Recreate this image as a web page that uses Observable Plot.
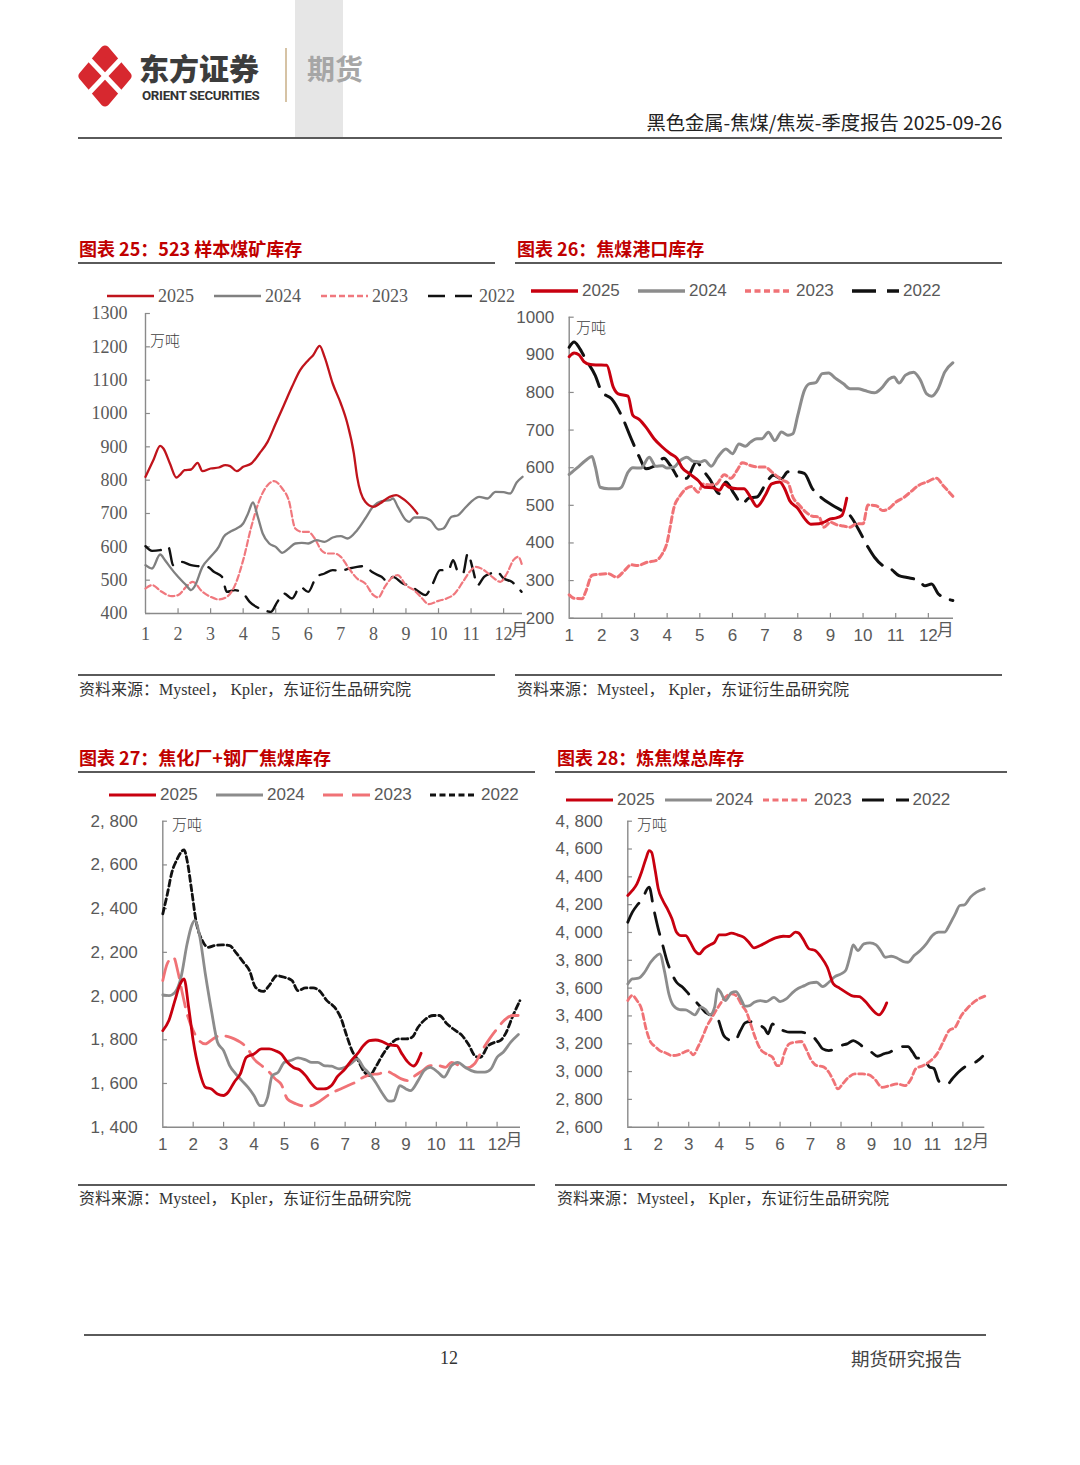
<!DOCTYPE html>
<html><head><meta charset="utf-8">
<script src="https://cdn.jsdelivr.net/npm/d3@7"></script>
<script src="https://cdn.jsdelivr.net/npm/@observablehq/plot@0.6"></script>
<style>
body{margin:0;background:#fff;}
#page{position:relative;width:1080px;height:1465px;overflow:hidden;background:#fff;font-family:"Noto Sans CJK SC",sans-serif;}
.abs{position:absolute;white-space:nowrap;line-height:1;}
.title{font-size:18px;font-weight:700;color:#C00000;}
.src{font-size:16px;color:#333;font-family:"Liberation Serif","Noto Sans CJK SC",serif;}
.rule{position:absolute;background:#5a5a5a;height:2px;}
.unit{font-size:15px;color:#404040;font-weight:300;}
</style></head><body><div id="page"></div>
<script>
// ---------- data ----------
const months = [1,2,3,4,5,6,7,8,9,10,11,12];
const years = ["2025","2024","2023","2022"];

// Chart 25: 523 sample coal mines inventory (万吨), [month position, value]
const c25_2025 = [[1,810],[1.25,862],[1.45,903],[1.55,895],[1.75,850],[1.95,808],[2.05,815],[2.2,830],[2.4,832],[2.6,852],[2.75,827],[3,835],[3.25,838],[3.45,845],[3.6,842],[3.8,827],[4,840],[4.25,850],[4.5,880],[4.75,915],[5,970],[5.25,1025],[5.5,1080],[5.75,1130],[6,1160],[6.15,1175],[6.35,1203],[6.5,1170],[6.75,1090],[7,1030],[7.2,970],[7.4,880],[7.5,810],[7.75,735],[8,720],[8.2,730],[8.5,750],[8.7,755],[8.85,748],[9.05,733],[9.2,718],[9.35,700]];
const c25_2024 = [[1,545],[1.2,535],[1.45,577],[1.6,560],[1.75,540],[2,510],[2.25,485],[2.4,470],[2.5,480],[2.75,540],[3,570],[3.25,600],[3.4,630],[3.6,645],[3.8,655],[4,670],[4.15,700],[4.3,733],[4.45,690],[4.6,640],[4.8,610],[5,600],[5.2,582],[5.4,595],[5.6,610],[5.8,612],[6,610],[6.25,620],[6.5,615],[6.75,628],[7,632],[7.2,625],[7.5,650],[7.75,685],[8,722],[8.25,737],[8.5,740],[8.6,745],[8.75,720],[9,680],[9.1,675],[9.25,688],[9.5,688],[9.75,680],[10,652],[10.15,655],[10.4,690],[10.6,695],[10.8,715],[11,735],[11.25,750],[11.5,745],[11.75,765],[12,764],[12.2,760],[12.4,793],[12.58,810]];
const c25_2023 = [[1,475],[1.2,485],[1.5,465],[1.8,452],[2,455],[2.25,480],[2.45,495],[2.75,465],[3,450],[3.25,442],[3.5,450],[3.75,485],[4,560],[4.25,660],[4.5,740],[4.75,785],[4.95,797],[5.2,775],[5.4,740],[5.6,655],[5.8,645],[6,645],[6.2,625],[6.4,590],[6.6,580],[6.8,580],[7,570],[7.25,535],[7.5,505],[7.75,490],[8,455],[8.15,448],[8.35,480],[8.6,510],[8.75,515],[9,485],[9.25,470],[9.5,445],[9.7,428],[10,438],[10.25,445],[10.5,460],[10.75,495],[11,530],[11.15,540],[11.4,530],[11.65,510],[11.9,495],[12.1,520],[12.3,560],[12.45,570],[12.58,540]];
const c25_2022 = [[1,602],[1.2,588],[1.45,590],[1.7,600],[1.85,545],[2.1,555],[2.4,545],[2.6,542],[2.9,540],[3.1,525],[3.35,510],[3.5,465],[3.75,470],[4,460],[4.2,435],[4.4,420],[4.6,412],[4.85,405],[5.05,435],[5.25,460],[5.5,445],[5.75,480],[6,465],[6.25,510],[6.5,520],[6.75,530],[7,528],[7.25,535],[7.5,540],[7.75,542],[7.95,525],[8.25,510],[8.45,495],[8.6,510],[8.9,490],[9.15,482],[9.4,465],[9.6,455],[9.8,485],[10.05,530],[10.3,530],[10.45,560],[10.6,525],[10.75,520],[10.9,580],[11.05,535],[11.2,485],[11.4,510],[11.6,520],[11.8,525],[12,505],[12.25,495],[12.55,465]];
const c25_ticks = [400,500,600,700,800,900,1000,1100,1200,1300];

// Chart 26: coking coal port inventory
const c26_2025 = [[1,895],[1.15,905],[1.3,900],[1.45,882],[1.65,874],[1.9,873],[2.15,872],[2.35,814],[2.5,796],[2.8,790],[2.95,739],[3.15,728],[3.35,708],[3.6,677],[3.85,655],[4.1,637],[4.3,625],[4.45,601],[4.7,583],[4.95,566],[5.15,548],[5.4,547],[5.6,540],[5.75,557],[5.9,548],[6.15,544],[6.35,544],[6.55,522],[6.75,497],[7,526],[7.2,557],[7.45,562],[7.6,544],[7.75,513],[8,492],[8.2,466],[8.4,450],[8.65,451],[8.85,457],[9,464],[9.15,466],[9.35,473],[9.5,519]];
const c26_2024 = [[1,582],[1.25,600],[1.5,619],[1.7,630],[1.8,602],[1.95,548],[2.2,544],[2.5,544],[2.6,548],[2.8,588],[2.95,600],[3.2,599],[3.45,628],[3.65,604],[3.85,605],[4,599],[4.2,601],[4.4,619],[4.6,628],[4.8,617],[5,615],[5.15,619],[5.35,604],[5.55,628],[5.8,650],[6,637],[6.2,663],[6.4,657],[6.55,668],[6.75,677],[6.9,677],[7.1,694],[7.3,672],[7.5,695],[7.7,686],[7.85,690],[8,739],[8.2,805],[8.35,823],[8.55,826],[8.75,850],[8.95,852],[9.15,838],[9.4,823],[9.6,810],[9.85,810],[10.05,805],[10.35,799],[10.55,810],[10.8,836],[10.95,841],[11.1,825],[11.3,846],[11.55,854],[11.75,834],[11.95,796],[12.1,790],[12.3,810],[12.5,854],[12.75,879]];
const c26_2023 = [[1,262],[1.15,253],[1.4,252],[1.5,269],[1.7,314],[1.95,317],[2.2,318],[2.45,309],[2.7,327],[2.9,342],[3.1,340],[3.4,349],[3.65,353],[3.85,371],[4,402],[4.1,446],[4.2,491],[4.4,526],[4.55,542],[4.75,550],[4.95,535],[5.1,557],[5.3,554],[5.5,556],[5.75,581],[5.95,572],[6.15,594],[6.3,613],[6.55,606],[6.75,602],[7,602],[7.2,589],[7.4,575],[7.55,566],[7.7,560],[7.85,522],[8.05,500],[8.25,482],[8.45,471],[8.65,469],[8.8,442],[9,455],[9.2,448],[9.4,445],[9.6,442],[9.8,451],[10,451],[10.15,501],[10.4,499],[10.6,486],[10.8,492],[11,508],[11.25,521],[11.45,535],[11.7,553],[11.95,562],[12.25,572],[12.45,553],[12.75,524]];
const c26_2022 = [[1,920],[1.15,934],[1.3,920],[1.5,889],[1.8,845],[2,801],[2.3,783],[2.6,739],[2.9,677],[3.15,628],[3.35,597],[3.6,604],[3.9,625],[4.1,606],[4.4,570],[4.6,572],[4.9,615],[5.1,593],[5.3,570],[5.6,531],[5.8,562],[6.05,531],[6.3,504],[6.5,519],[6.75,522],[7.05,562],[7.25,580],[7.5,571],[7.7,589],[7.95,589],[8.2,585],[8.45,544],[8.7,522],[9.05,501],[9.35,486],[9.6,473],[9.85,438],[10.15,389],[10.35,362],[10.6,340],[10.85,331],[11.1,313],[11.35,308],[11.7,300],[11.9,286],[12.1,291],[12.3,265],[12.5,254],[12.75,247]];
const c26_ticks = [200,300,400,500,600,700,800,900,1000];

// Chart 27: coking plants + steel mills coking coal inventory
const c27_2025 = [[1,1842],[1.2,1888],[1.4,1980],[1.55,2048],[1.7,2078],[1.85,1949],[2,1796],[2.2,1659],[2.4,1583],[2.6,1575],[2.8,1552],[3,1545],[3.15,1560],[3.35,1606],[3.55,1644],[3.75,1720],[4,1735],[4.25,1758],[4.5,1758],[4.7,1750],[4.9,1735],[5.1,1697],[5.3,1673],[5.5,1663],[5.7,1636],[5.9,1598],[6.1,1575],[6.3,1575],[6.55,1591],[6.75,1632],[7,1667],[7.2,1705],[7.4,1735],[7.6,1773],[7.8,1796],[8,1799],[8.2,1793],[8.45,1777],[8.7,1773],[8.85,1740],[9.05,1700],[9.25,1680],[9.5,1738]];
const c27_2024 = [[1,2005],[1.2,2002],[1.4,2017],[1.6,2086],[1.8,2239],[1.95,2323],[2.05,2345],[2.2,2284],[2.4,2101],[2.6,1934],[2.8,1789],[3,1750],[3.2,1682],[3.4,1644],[3.6,1613],[3.8,1583],[4,1545],[4.2,1499],[4.3,1499],[4.45,1538],[4.6,1636],[4.8,1652],[5,1697],[5.2,1705],[5.45,1717],[5.7,1708],[5.9,1697],[6.1,1697],[6.3,1682],[6.55,1679],[6.8,1667],[7,1674],[7.2,1692],[7.4,1712],[7.6,1674],[7.8,1644],[8,1606],[8.2,1560],[8.45,1519],[8.6,1522],[8.8,1590],[9,1575],[9.15,1567],[9.4,1613],[9.6,1659],[9.8,1674],[10.05,1652],[10.25,1629],[10.5,1682],[10.7,1697],[10.95,1674],[11.15,1659],[11.35,1652],[11.6,1652],[11.8,1667],[12,1720],[12.2,1743],[12.45,1789],[12.7,1824]];
const c27_2023 = [[1,2071],[1.15,2150],[1.35,2178],[1.5,2109],[1.65,2009],[1.8,1918],[2,1842],[2.2,1796],[2.4,1781],[2.65,1804],[2.9,1819],[3.15,1814],[3.35,1804],[3.55,1789],[3.8,1758],[4,1712],[4.25,1682],[4.5,1652],[4.7,1621],[4.9,1595],[5.1,1529],[5.35,1509],[5.6,1498],[5.85,1498],[6.1,1513],[6.35,1538],[6.6,1560],[6.85,1575],[7.1,1591],[7.35,1606],[7.6,1629],[7.85,1641],[8.1,1644],[8.35,1656],[8.6,1641],[8.85,1621],[9.1,1613],[9.3,1636],[9.55,1659],[9.8,1682],[10.05,1682],[10.3,1674],[10.5,1697],[10.75,1682],[11,1671],[11.25,1689],[11.5,1750],[11.75,1804],[12,1850],[12.25,1891],[12.5,1911],[12.75,1911]];
const c27_2022 = [[1,2376],[1.15,2467],[1.3,2567],[1.45,2620],[1.6,2658],[1.7,2669],[1.8,2620],[1.95,2483],[2.1,2338],[2.3,2254],[2.5,2223],[2.7,2231],[2.95,2234],[3.2,2231],[3.4,2200],[3.65,2155],[3.85,2117],[4.05,2040],[4.3,2021],[4.5,2048],[4.75,2093],[5,2086],[5.25,2071],[5.45,2025],[5.7,2037],[5.95,2037],[6.15,2025],[6.4,1979],[6.65,1949],[6.85,1903],[7.05,1819],[7.25,1743],[7.4,1712],[7.6,1659],[7.8,1636],[8,1674],[8.25,1735],[8.5,1781],[8.75,1804],[9,1804],[9.2,1811],[9.4,1857],[9.65,1895],[9.9,1911],[10.1,1911],[10.35,1873],[10.6,1845],[10.85,1819],[11.05,1781],[11.3,1723],[11.45,1720],[11.7,1772],[11.9,1787],[12.1,1796],[12.3,1834],[12.5,1903],[12.75,1979]];
const c27_ticks = [1400,1600,1800,2000,2200,2400,2600,2800];

// Chart 28: total coking coal inventory
const c28_2025 = [[1,4266],[1.15,4302],[1.3,4350],[1.45,4433],[1.6,4534],[1.7,4589],[1.78,4577],[1.9,4445],[2,4314],[2.15,4230],[2.3,4170],[2.45,4098],[2.6,4002],[2.75,3978],[2.9,3978],[3.05,3930],[3.2,3870],[3.35,3846],[3.5,3882],[3.7,3911],[3.85,3930],[4,3983],[4.2,3983],[4.4,3995],[4.6,3983],[4.8,3966],[4.95,3935],[5.15,3889],[5.35,3906],[5.6,3935],[5.85,3961],[6.1,3973],[6.3,3971],[6.5,4002],[6.6,3997],[6.75,3954],[6.95,3882],[7.15,3870],[7.35,3822],[7.55,3750],[7.75,3630],[7.95,3600],[8.15,3571],[8.4,3542],[8.6,3539],[8.8,3503],[9,3451],[9.25,3408],[9.4,3446],[9.5,3494]];
const c28_2024 = [[1,3630],[1.15,3666],[1.35,3671],[1.55,3714],[1.75,3786],[1.95,3834],[2.05,3846],[2.2,3726],[2.35,3557],[2.5,3474],[2.7,3446],[2.9,3443],[3.05,3426],[3.2,3408],[3.4,3463],[3.55,3446],[3.7,3408],[3.85,3463],[3.95,3595],[4.05,3570],[4.2,3510],[4.4,3566],[4.55,3575],[4.7,3527],[4.85,3470],[5,3474],[5.15,3498],[5.35,3510],[5.55,3503],[5.8,3534],[6,3503],[6.2,3522],[6.4,3566],[6.6,3599],[6.8,3618],[7,3638],[7.2,3642],[7.4,3611],[7.6,3642],[7.8,3683],[8,3702],[8.15,3726],[8.3,3834],[8.4,3911],[8.55,3870],[8.75,3918],[8.95,3925],[9.15,3911],[9.3,3870],[9.45,3822],[9.65,3829],[9.85,3815],[10.05,3791],[10.2,3786],[10.4,3834],[10.6,3870],[10.8,3918],[11,3978],[11.2,4002],[11.4,4002],[11.55,4050],[11.75,4134],[11.9,4194],[12.05,4198],[12.25,4254],[12.45,4290],[12.7,4314]];
const c28_2023 = [[1,3511],[1.15,3547],[1.3,3511],[1.45,3451],[1.6,3307],[1.75,3211],[1.9,3180],[2.05,3151],[2.25,3134],[2.45,3115],[2.65,3120],[2.85,3139],[3,3151],[3.15,3120],[3.3,3175],[3.45,3247],[3.6,3326],[3.8,3403],[4,3475],[4.2,3535],[4.4,3559],[4.55,3547],[4.75,3475],[4.9,3427],[5.05,3331],[5.2,3235],[5.35,3163],[5.55,3127],[5.75,3103],[5.9,3043],[6,3043],[6.15,3139],[6.3,3199],[6.5,3211],[6.7,3216],[6.85,3163],[7,3091],[7.2,3043],[7.4,3036],[7.6,2995],[7.75,2935],[7.9,2875],[8.05,2911],[8.25,2959],[8.45,2983],[8.7,2983],[8.9,2978],[9.1,2947],[9.35,2887],[9.6,2899],[9.85,2911],[10.1,2899],[10.3,2947],[10.45,3019],[10.7,3043],[10.95,3079],[11.15,3127],[11.35,3211],[11.55,3295],[11.75,3319],[11.95,3403],[12.15,3455],[12.35,3497],[12.55,3526],[12.72,3542]];
const c28_2022 = [[1,4074],[1.15,4146],[1.3,4194],[1.45,4230],[1.7,4326],[1.85,4170],[2,4026],[2.15,3906],[2.3,3786],[2.45,3702],[2.6,3642],[2.8,3606],[3,3558],[3.2,3510],[3.4,3463],[3.55,3426],[3.75,3408],[3.9,3427],[4,3355],[4.15,3259],[4.3,3230],[4.5,3216],[4.7,3295],[4.85,3350],[5,3360],[5.15,3355],[5.35,3331],[5.5,3307],[5.6,3271],[5.75,3343],[5.9,3307],[6.1,3295],[6.3,3283],[6.5,3283],[6.7,3283],[6.9,3271],[7.1,3247],[7.25,3206],[7.4,3163],[7.6,3151],[7.8,3163],[8,3187],[8.2,3199],[8.4,3223],[8.6,3199],[8.8,3163],[9,3139],[9.2,3110],[9.4,3127],[9.6,3139],[9.8,3163],[10,3180],[10.2,3180],[10.35,3139],[10.5,3096],[10.7,3096],[10.9,3034],[11.05,3022],[11.2,2935],[11.35,2911],[11.5,2911],[11.65,2947],[11.85,2995],[12.05,3031],[12.25,3055],[12.45,3072],[12.65,3110]];
const c28_ticks = [2600,2800,3000,3200,3400,3600,3800,4000,4200,4400,4600,4800];

// ---------- layout ----------
const SERIF = "'Liberation Serif','DejaVu Serif',serif";
const SANS = "'Liberation Sans',Arial,sans-serif";
const page = document.getElementById("page");
function add(html){ page.insertAdjacentHTML("beforeend", html); }

const commaFmt = d => d3.format(",")(d).replace(",", ", ");

const charts = [
  {left:75, top:300, width:460, height:350, mL:70, mR:13, mT:13, mB:37, x:[1,12.58], y:[400,1300], ticks:c25_ticks,
   font:SERIF, fs:18, xPad:14, yPad:18, fmt:d=>String(d), monthDx:16, monthDy:22,
   series:[{d:c25_2025,c:"#C0141C",w:2.3},{d:c25_2024,c:"#808080",w:2.3},{d:c25_2023,c:"#F0787E",w:2.2,dash:"6,3"},{d:c25_2022,c:"#111",w:2.4,dash:"17,10"}],
   legend:{x:107,y:296,step:107}, unit:{x:150,y:340}},
  {left:510, top:300, width:470, height:350, mL:58.7, mR:27, mT:16.7, mB:32.3, x:[1,12.77], y:[200,1000], ticks:c26_ticks,
   font:SANS, fs:17, xPad:11, yPad:15, fmt:d=>String(d), monthDx:17, monthDy:18,
   series:[{d:c26_2025,c:"#C8000F",w:3},{d:c26_2024,c:"#8C8C8C",w:3},{d:c26_2023,c:"#F07276",w:3,dash:"6,3.5"},{d:c26_2022,c:"#111",w:3,dash:"24,11"}],
   legend:{x:531,y:291,step:107}, unit:{x:576,y:327}},
  {left:75, top:805, width:460, height:365, mL:87.3, mR:15, mT:15.7, mB:43.3, x:[1,12.77], y:[1400,2800], ticks:c27_ticks,
   font:SANS, fs:17, xPad:11, yPad:25, fmt:commaFmt, monthDx:17, monthDy:19,
   series:[{d:c27_2025,c:"#C8000F",w:2.8},{d:c27_2024,c:"#8C8C8C",w:2.8},{d:c27_2023,c:"#F07276",w:2.8,dash:"20,9"},{d:c27_2022,c:"#111",w:2.8,dash:"6,3.5"}],
   legend:{x:109,y:795,step:107}, unit:{x:172,y:824}},
  {left:545, top:805, width:460, height:365, mL:82.3, mR:20.7, mT:15.7, mB:43.3, x:[1,12.72], y:[2600,4800], ticks:c28_ticks,
   font:SANS, fs:17, xPad:11, yPad:25, fmt:commaFmt, monthDx:18, monthDy:20,
   series:[{d:c28_2025,c:"#C8000F",w:2.8},{d:c28_2024,c:"#8C8C8C",w:2.8},{d:c28_2023,c:"#F07276",w:2.8,dash:"6,3.5"},{d:c28_2022,c:"#111",w:2.8,dash:"22,12"}],
   legend:{x:566,y:800,step:98.5}, unit:{x:637,y:824}}
];

function makeChart(cfg){
  const [x0,x1] = cfg.x, [y0,y1] = cfg.y;
  const ax = "#8a8a8a";
  const marks = [
    Plot.ruleY([y0], {stroke: ax, strokeWidth: 1.4}),
    Plot.ruleX([x0], {stroke: ax, strokeWidth: 1.4}),
    Plot.ruleX(months.slice(1), {x: d => d, y1: y0, y2: y0 + (y1 - y0) * 0.016, stroke: ax, strokeWidth: 1.2}),
    Plot.ruleY(cfg.ticks, {y: d => d, x1: x0, x2: x0 + (x1 - x0) * 0.013, stroke: ax, strokeWidth: 1.2})
  ];
  cfg.series.slice().reverse().forEach(s => {
    marks.push(Plot.line(s.d, {x: d => d[0], y: d => d[1], stroke: s.c, strokeWidth: s.w, strokeDasharray: s.dash || null, curve: "monotone-x"}));
  });
  marks.push(Plot.axisX(months, {tickSize: 0, tickPadding: cfg.xPad, tickFormat: d => String(d), fill: "#595959", fontSize: cfg.fs, fontFamily: cfg.font}));
  marks.push(Plot.axisY(cfg.ticks, {tickSize: 0, tickPadding: cfg.yPad, tickFormat: cfg.fmt, fill: "#595959", fontSize: cfg.fs, fontFamily: cfg.font}));
  marks.push(Plot.text(["月"], {x: () => 12, frameAnchor: "bottom", dx: cfg.monthDx, dy: cfg.monthDy, text: d => d, fill: "#595959", fontSize: 17, fontFamily: "'Noto Sans CJK SC',sans-serif"}));
  const svg = Plot.plot({
    width: cfg.width, height: cfg.height,
    marginLeft: cfg.mL, marginRight: cfg.mR, marginTop: cfg.mT, marginBottom: cfg.mB,
    x: {domain: cfg.x}, y: {domain: cfg.y},
    style: {fontFamily: cfg.font, fontSize: cfg.fs + "px", background: "transparent", overflow: "visible"},
    marks
  });
  svg.style.position = "absolute";
  svg.style.left = cfg.left + "px";
  svg.style.top = cfg.top + "px";
  page.appendChild(svg);

  // legend
  cfg.series.forEach((s, i) => {
    const lx = cfg.legend.x + i * cfg.legend.step;
    add(`<svg class="abs" style="left:${lx}px;top:${cfg.legend.y - 5}px" width="47" height="10"><line x1="0" x2="47" y1="5" y2="5" stroke="${s.c}" stroke-width="${s.w + 0.3}" ${s.dash ? `stroke-dasharray="${s.dash}"` : ""}/></svg>`);
    add(`<div class="abs" style="left:${lx + 51}px;top:${cfg.legend.y - 9}px;font-family:${cfg.font.replace(/"/g,"'")};font-size:${cfg.fs}px;color:#595959">${years[i]}</div>`);
  });
  add(`<div class="abs unit" style="left:${cfg.unit.x}px;top:${cfg.unit.y - 8}px">万吨</div>`);
}
charts.forEach(makeChart);

// ---------- header ----------
add(`<div class="abs" style="left:295px;top:0;width:48px;height:138px;background:#e6e6e6"></div>`);
add(`<svg class="abs" style="left:76px;top:44px" width="58" height="64" viewBox="0 0 58 64">
  <path d="M29,6 L51,32 L29,58 L7,32 Z" fill="#D7282F" stroke="#D7282F" stroke-width="9" stroke-linejoin="round"/>
  <line x1="12" y1="14" x2="46" y2="50" stroke="#fff" stroke-width="5"/>
  <line x1="46" y1="14" x2="12" y2="50" stroke="#fff" stroke-width="5"/>
</svg>`);
add(`<div class="abs" style="left:139px;top:52px;font-size:30px;font-weight:900;color:#3c3c3c;letter-spacing:0px">东方证券</div>`);
add(`<div class="abs" style="left:142px;top:89px;font-family:Roboto,'Liberation Sans',sans-serif;font-size:13.3px;font-weight:700;color:#333;letter-spacing:-0.3px">ORIENT SECURITIES</div>`);
add(`<div class="abs" style="left:285px;top:48px;width:2px;height:54px;background:#d6c3a5"></div>`);
add(`<div class="abs" style="left:307px;top:54px;font-size:28px;font-weight:700;color:#a6a6a6">期货</div>`);
add(`<div class="abs" style="right:78px;top:113px;font-size:19.3px;color:#222">黑色金属-焦煤/焦炭-季度报告 2025-09-26</div>`);
add(`<div class="rule" style="left:78px;top:137px;width:924px;"></div>`);

// ---------- titles & sources ----------
add(`<div class="abs title" style="left:79px;top:239px">图表 25：523 样本煤矿库存</div>`);
add(`<div class="rule" style="left:78px;top:262px;width:417px;"></div>`);
add(`<div class="abs title" style="left:517px;top:239px">图表 26：焦煤港口库存</div>`);
add(`<div class="rule" style="left:515px;top:262px;width:487px;"></div>`);
add(`<div class="rule" style="left:78px;top:674px;width:417px;height:1.5px"></div>`);
add(`<div class="rule" style="left:515px;top:674px;width:487px;height:1.5px"></div>`);
add(`<div class="abs src" style="left:79px;top:682px">资料来源：Mysteel， Kpler，东证衍生品研究院</div>`);
add(`<div class="abs src" style="left:517px;top:682px">资料来源：Mysteel， Kpler，东证衍生品研究院</div>`);

add(`<div class="abs title" style="left:79px;top:748px">图表 27：焦化厂+钢厂焦煤库存</div>`);
add(`<div class="rule" style="left:78px;top:771px;width:457px;"></div>`);
add(`<div class="abs title" style="left:557px;top:748px">图表 28：炼焦煤总库存</div>`);
add(`<div class="rule" style="left:555px;top:771px;width:452px;"></div>`);
add(`<div class="rule" style="left:78px;top:1184px;width:457px;height:1.5px"></div>`);
add(`<div class="rule" style="left:555px;top:1184px;width:452px;height:1.5px"></div>`);
add(`<div class="abs src" style="left:79px;top:1191px">资料来源：Mysteel， Kpler，东证衍生品研究院</div>`);
add(`<div class="abs src" style="left:557px;top:1191px">资料来源：Mysteel， Kpler，东证衍生品研究院</div>`);

// ---------- footer ----------
add(`<div class="rule" style="left:84px;top:1334px;width:902px;"></div>`);
add(`<div class="abs" style="left:440px;top:1349px;font-family:'Liberation Serif',serif;font-size:18px;color:#333">12</div>`);
add(`<div class="abs" style="left:851px;top:1349px;font-size:18.5px;color:#444">期货研究报告</div>`);
</script></body></html>
